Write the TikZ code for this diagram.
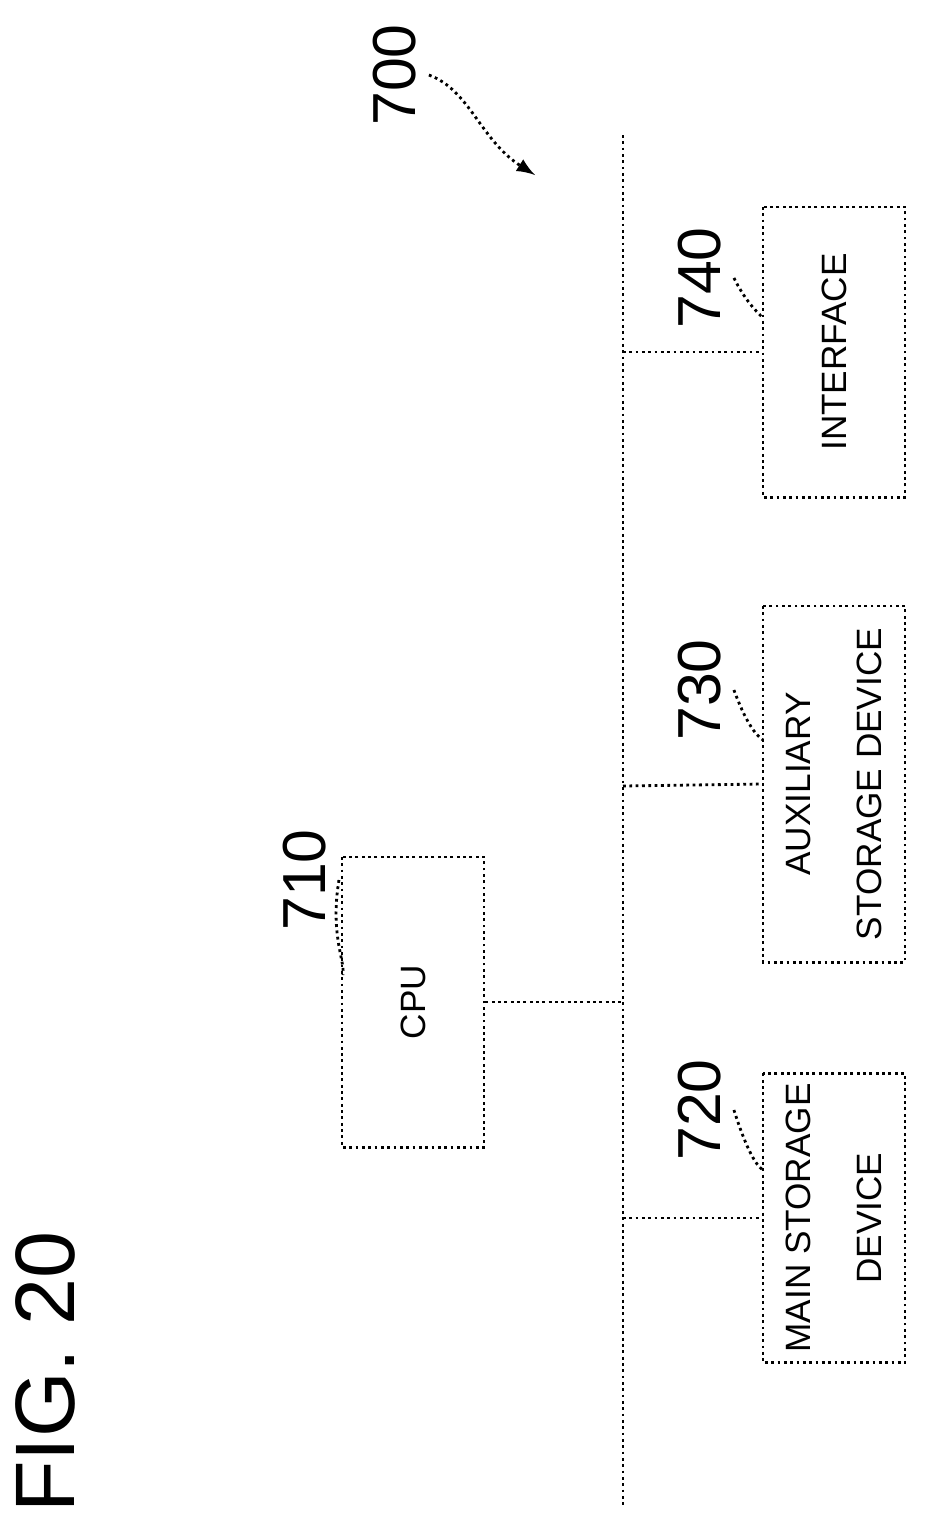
\documentclass[tikz,border=0pt]{standalone}
\usepackage{fontspec}
\setmainfont{Liberation Sans}
\usetikzlibrary{calc}
\begin{document}
\begin{tikzpicture}[x=0.01cm,y=-0.01cm,
    block/.style={draw, densely dotted, thick, rotate=90, align=center, font=\normalsize, inner sep=0pt, minimum height=1.42cm},
    refnum/.style={rotate=90, font=\LARGE},
    wire/.style={densely dotted, thick}]
\useasboundingbox (0,0) rectangle (926,1535);
% bus
\coordinate (bustop) at (623,135);
\coordinate (busbot) at (623,1505);
\draw[wire] (bustop) -- (busbot);
% blocks
\node[block, minimum width=2.9cm] (cpu) at (413,1002) {CPU};
\node[block, minimum width=2.9cm] (intf) at (834,352) {INTERFACE};
\node[block, minimum width=3.56cm] (aux) at (834,784) {AUXILIARY\\[8pt]STORAGE DEVICE};
\node[block, minimum width=2.89cm] (main) at (834,1218) {MAIN STORAGE\\[8pt]DEVICE};
% taps
\coordinate (tcpu) at (623,1002);
\coordinate (tintf) at (623,352);
\coordinate (taux) at (623,786);
\coordinate (tmain) at (623,1218);
\draw[wire] (cpu.south) -- (tcpu);
\draw[wire] (tintf) -- (intf.north);
\draw[wire] (taux) -- (aux.north);
\draw[wire] (tmain) -- (main.north);
% reference numerals
\node[refnum] (n710) at (305,880) {710};
\node[refnum] (n720) at (700,1110) {720};
\node[refnum] (n730) at (700,690) {730};
\node[refnum] (n740) at (700,278) {740};
\node[refnum] (n700) at (395,75) {700};
\node[rotate=90, font=\fontsize{24}{28}\selectfont] (fig) at (45,1372) {FIG. 20};
\draw[wire] (n710.south) .. controls (330,935) and (345,960) .. (343,975);
\draw[wire] (n720.south) .. controls (745,1145) and (755,1165) .. (763,1170);
\draw[wire] (n730.south) .. controls (745,720) and (755,735) .. (763,740);
\draw[wire] (n740.south) .. controls (745,300) and (755,310) .. (763,318);
\draw[wire, -latex] (n700.south) .. controls (470,90) and (480,140) .. (535,175);
\end{tikzpicture}
\end{document}
